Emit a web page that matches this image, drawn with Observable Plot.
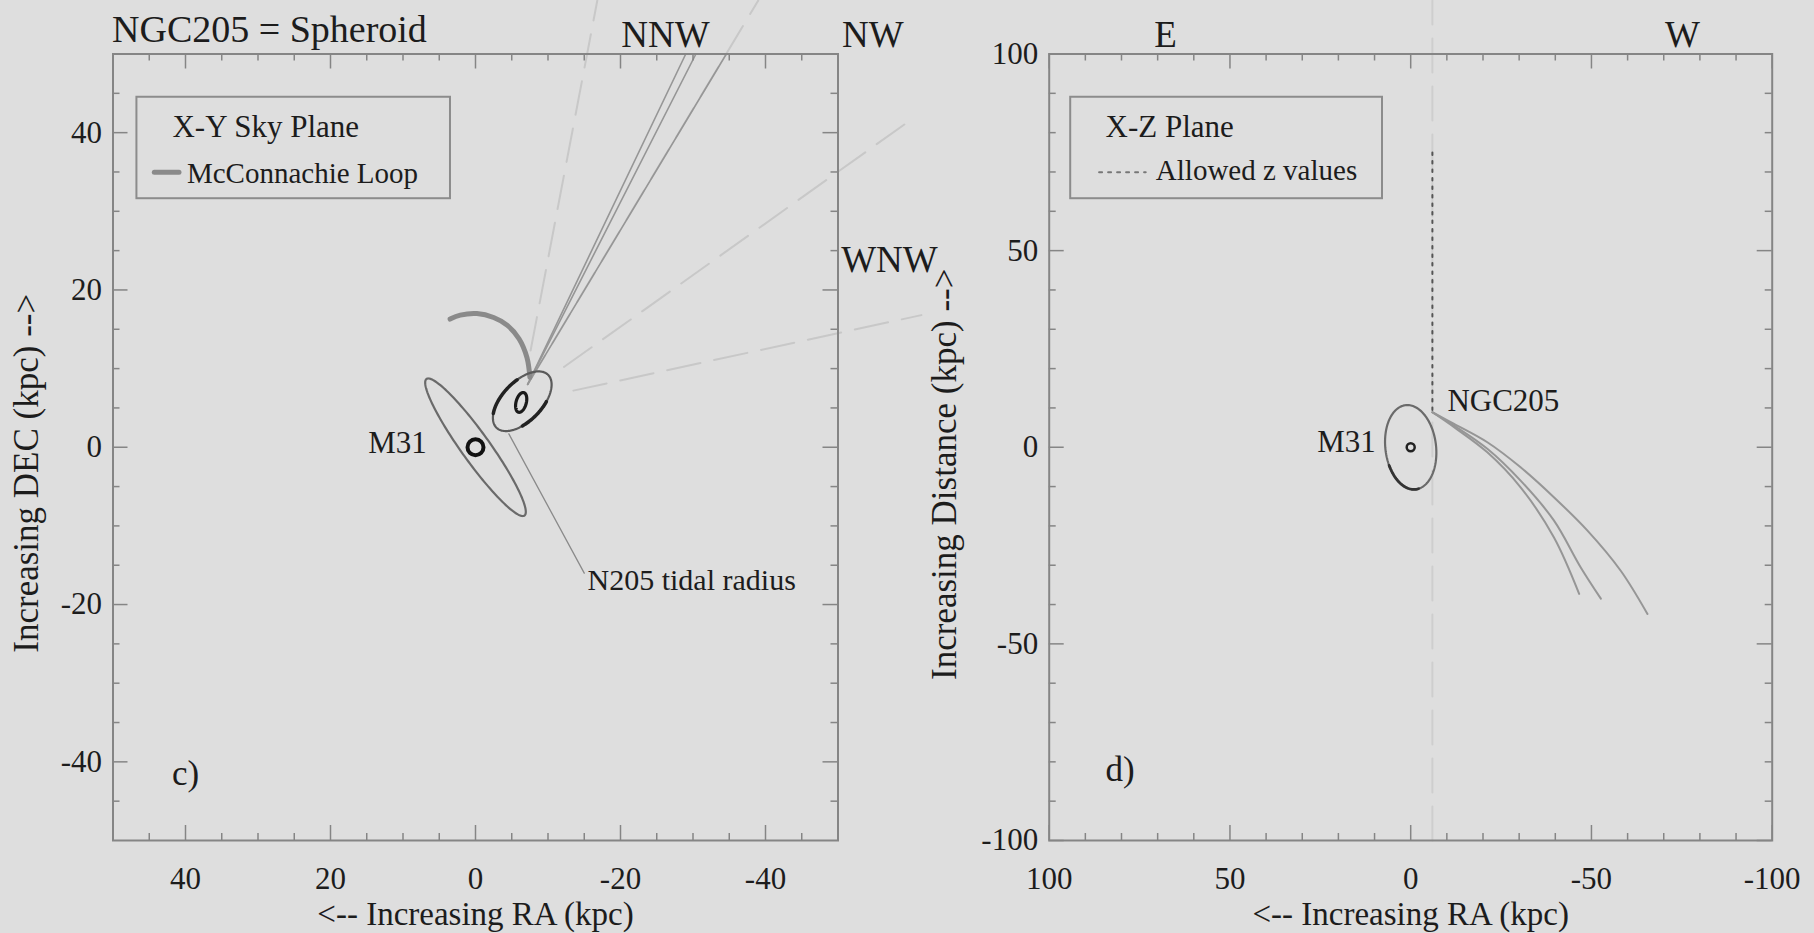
<!DOCTYPE html>
<html>
<head>
<meta charset="utf-8">
<script src="https://cdn.jsdelivr.net/npm/d3@7"></script>
<script src="https://cdn.jsdelivr.net/npm/@observablehq/plot@0.6"></script>
<style>
  html, body { margin: 0; padding: 0; background: #dedede; }
  #fig { position: relative; width: 1814px; height: 933px; overflow: hidden; background: #dedede; }
  #fig svg { position: absolute; top: 0; }
</style>
</head>
<body>
<div id="fig"></div>
<script>
// ---------- tick values ----------
const xyMajorTicks = [40, 20, 0, -20, -40];
const xyMinorTicks = [45, 35, 30, 25, 15, 10, 5, -5, -10, -15, -25, -30, -35, -45];
const xzMajorTicks = [100, 50, 0, -50, -100];
const xzMinorTicks = [90, 80, 70, 60, 40, 30, 20, 10, -10, -20, -30, -40, -60, -70, -80, -90];

// ---------- panel c: X-Y sky plane (kpc) ----------
// McConnachie loop
const mcconnachieLoop = [
  {x: 3.5, y: 16.3}, {x: 2.1, y: 16.8}, {x: -0.2, y: 17.0}, {x: -2.5, y: 16.5},
  {x: -4.4, y: 15.5}, {x: -6.0, y: 13.8}, {x: -7.1, y: 11.4}, {x: -7.5, y: 8.9}
];
// projected NGC205 orbits on the sky
const skyOrbits = [
  {orbit: "a", x: -7.2, y: 8.0}, {orbit: "a", x: -29.0, y: 50},
  {orbit: "b", x: -7.2, y: 8.0}, {orbit: "b", x: -30.4, y: 50},
  {orbit: "c", x: -7.2, y: 8.0}, {orbit: "c", x: -34.6, y: 50}
];
// compass direction rays from NGC205
const directionRays = [
  {ray: "N", x: -7.6, y: 12.3}, {ray: "N", x: -16.8, y: 56.8},
  {ray: "NNW", x: -7.2, y: 8.0}, {ray: "NNW", x: -39.0, y: 56.8},
  {ray: "NW", x: -12.2, y: 10.2}, {ray: "NW", x: -59.7, y: 41.4},
  {ray: "WNW", x: -13.5, y: 7.2}, {ray: "WNW", x: -61.5, y: 16.8}
];
// tidal-radius leader line
const tidalLeader = [{x: -4.6, y: 1.7}, {x: -15.0, y: -16.0}];
// ellipses: [cx, cy, semi-major, semi-minor, major-axis ux, uy]
const m31DiskXY = [0, 0, 11.0, 1.9, 0.616, 0.788];
const n205TidalXY = [-6.45, 5.85, 4.9, 2.6, -0.747, 0.665];
const n205BodyXY = [-6.3, 5.7, 1.3, 0.7, -0.3, 0.954];
const directionNames = ["NNW", "NW", "WNW"];

// ---------- panel d: X-Z plane (kpc) ----------
const depthOrbits = [
  {orbit: "a", x: -6.0, y: 8.9}, {orbit: "a", x: -12.0, y: 5.1}, {orbit: "a", x: -21.2, y: -1.3},
  {orbit: "a", x: -30.4, y: -10.2}, {orbit: "a", x: -39.6, y: -22.9}, {orbit: "a", x: -46.6, y: -37.3},
  {orbit: "b", x: -6.0, y: 8.9}, {orbit: "b", x: -12.0, y: 5.5}, {orbit: "b", x: -21.2, y: -0.4},
  {orbit: "b", x: -30.4, y: -8.5}, {orbit: "b", x: -39.6, y: -18.6}, {orbit: "b", x: -47.0, y: -30.5},
  {orbit: "b", x: -52.6, y: -38.5},
  {orbit: "c", x: -6.0, y: 8.9}, {orbit: "c", x: -12.0, y: 5.95}, {orbit: "c", x: -21.2, y: 1.27},
  {orbit: "c", x: -30.4, y: -5.1}, {orbit: "c", x: -39.6, y: -12.7}, {orbit: "c", x: -48.9, y: -21.2},
  {orbit: "c", x: -58.1, y: -31.4}, {orbit: "c", x: -65.5, y: -42.4}
];
const n205RA = -6.0;
const allowedZ = [{x: n205RA, y: 9.5}, {x: n205RA, y: 75.5}];
const raGuide = [{x: n205RA, y: -100}, {x: n205RA, y: 113.6}];
const m31DiskXZ = [0, 0, 10.8, 7.0, 0.146, 0.989];

// ---------- styling ----------
const FONT = "'Liberation Serif', 'Times New Roman', serif";
const INK = "#1c1c1c";
const AXIS = "#858585";

function ellipse([cx, cy, a, b, ux, uy], t0 = 0, t1 = 360, n = 160) {
  const vx = -uy, vy = ux, pts = [];
  for (let i = 0; i <= n; i++) {
    const t = (t0 + (t1 - t0) * i / n) * Math.PI / 180;
    pts.push({
      x: cx + a * Math.cos(t) * ux + b * Math.sin(t) * vx,
      y: cy + a * Math.cos(t) * uy + b * Math.sin(t) * vy
    });
  }
  return pts;
}

// inward ticks on all four sides of the frame
function frameTicks(major, minor, W, H) {
  const s = {stroke: AXIS, strokeWidth: 1.5};
  const out = [];
  for (const [vals, len] of [[major, 15], [minor, 7]]) {
    out.push(
      Plot.ruleX(vals, {x: d => d, insetTop: H - len, ...s}),
      Plot.ruleX(vals, {x: d => d, insetBottom: H - len, ...s}),
      Plot.ruleY(vals, {y: d => d, insetRight: W - len, ...s}),
      Plot.ruleY(vals, {y: d => d, insetLeft: W - len, ...s})
    );
  }
  return out;
}

function tickLabels(major) {
  return [
    Plot.axisX(major, {anchor: "bottom", tickSize: 0, tickPadding: 26, label: null,
      tickFormat: d => String(d), fontSize: 31, fontFamily: FONT, fill: INK}),
    Plot.axisY(major, {anchor: "left", tickSize: 0, tickPadding: 11, label: null,
      tickFormat: d => String(d), fontSize: 31, fontFamily: FONT, fill: INK})
  ];
}

const TOP = 53.5, BOTTOM = 93;
const plotStyle = `background: transparent; overflow: visible; font-family: ${FONT};`;
const txt = {text: d => d, fontFamily: FONT, fill: INK, lineAnchor: "middle"};

// ---------- panel c ----------
const leftW = 960, leftML = 112.5, leftMR = 122.5;
const frameWc = leftW - leftML - leftMR, frameH = 933 - TOP - BOTTOM;

const panelC = Plot.plot({
  width: leftW, height: 933,
  marginTop: TOP, marginBottom: BOTTOM, marginLeft: leftML, marginRight: leftMR,
  style: plotStyle,
  x: {domain: [50, -50]},
  y: {domain: [-50, 50]},
  marks: [
    // dashed direction rays
    Plot.line(directionRays, {x: "x", y: "y", z: "ray", stroke: "#c8c8c8", strokeWidth: 2, strokeDasharray: "34,14"}),
    // orbits
    Plot.line(skyOrbits, {x: "x", y: "y", z: "orbit", stroke: "#969696", strokeWidth: 1.6}),
    // McConnachie loop
    Plot.line(mcconnachieLoop, {x: "x", y: "y", curve: "catmull-rom", stroke: "#8a8a8a", strokeWidth: 5, strokeLinecap: "round"}),
    // M31 disk
    Plot.line(ellipse(m31DiskXY), {x: "x", y: "y", stroke: "#6a6a6a", strokeWidth: 2.2}),
    // NGC205 tidal radius and body
    Plot.line(ellipse(n205TidalXY), {x: "x", y: "y", stroke: "#5a5a5a", strokeWidth: 2.2}),
    Plot.line(ellipse(n205TidalXY, 215, 285, 40), {x: "x", y: "y", stroke: "#222", strokeWidth: 3.5}),
    Plot.line(ellipse(n205TidalXY, 60, 115, 40), {x: "x", y: "y", stroke: "#222", strokeWidth: 3.5}),
    Plot.line(ellipse(n205BodyXY), {x: "x", y: "y", stroke: "#1a1a1a", strokeWidth: 3.2}),
    Plot.dot([{x: 0, y: 0}], {x: "x", y: "y", r: 8, stroke: "#111", strokeWidth: 4, fill: "none"}),
    // leader to label
    Plot.line(tidalLeader, {x: "x", y: "y", stroke: "#8a8a8a", strokeWidth: 1.3}),
    // legend box
    Plot.rect([{}], {x1: 46.7, x2: 3.45, y1: 31.6, y2: 44.5, fill: "none", stroke: "#8c8c8c", strokeWidth: 2}),
    Plot.text(["X-Y Sky Plane"], {...txt, x: () => 41.8, y: () => 40.7, textAnchor: "start", fontSize: 31}),
    Plot.line([{x: 44.3, y: 34.96}, {x: 40.9, y: 34.96}], {x: "x", y: "y", stroke: "#8a8a8a", strokeWidth: 5}),
    Plot.text(["McConnachie Loop"], {...txt, x: () => 39.8, y: () => 34.8, textAnchor: "start", fontSize: 29}),
    // annotations
    Plot.text(["M31"], {...txt, x: () => 10.75, y: () => 0.47, fontSize: 31}),
    Plot.text(["N205 tidal radius"], {...txt, x: () => -15.45, y: () => -16.95, textAnchor: "start", fontSize: 30}),
    Plot.text(["c)"], {...txt, x: () => 40.0, y: () => -41.5, fontSize: 35}),
    Plot.text([directionNames[0]], {...txt, x: () => -26.2, y: () => 52.35, fontSize: 37}),
    Plot.text([directionNames[1]], {...txt, x: () => -54.8, y: () => 52.35, fontSize: 37}),
    Plot.text([directionNames[2]], {...txt, x: () => -57.1, y: () => 23.75, fontSize: 37}),
    // title and axis labels
    Plot.text(["NGC205 = Spheroid"], {...txt, frameAnchor: "top-left", textAnchor: "start", dx: -1, dy: -24.5, fontSize: 38}),
    Plot.text(["<-- Increasing RA (kpc)"], {...txt, frameAnchor: "bottom", textAnchor: "middle", dy: 73.5, fontSize: 33}),
    Plot.text(["Increasing DEC (kpc) -->"], {...txt, frameAnchor: "left", textAnchor: "middle", rotate: -90, dx: -86.5, dy: 26, fontSize: 35}),
    // ticks, tick labels, frame
    ...frameTicks(xyMajorTicks, xyMinorTicks, frameWc, frameH),
    ...tickLabels(xyMajorTicks),
    Plot.frame({stroke: AXIS, strokeWidth: 2})
  ]
});
panelC.style.left = "0px";

// ---------- panel d ----------
const rightLeft = 900, rightW = 914, rightML = 148.7, rightMR = 42.3;
const frameWd = rightW - rightML - rightMR;

const panelD = Plot.plot({
  width: rightW, height: 933,
  marginTop: TOP, marginBottom: BOTTOM, marginLeft: rightML, marginRight: rightMR,
  style: plotStyle,
  x: {domain: [100, -100]},
  y: {domain: [-100, 100]},
  marks: [
    // NGC205 right ascension guide
    Plot.line(raGuide, {x: "x", y: "y", stroke: "#cecece", strokeWidth: 2, strokeDasharray: "34,14"}),
    Plot.line(allowedZ, {x: "x", y: "y", stroke: "#555", strokeWidth: 2, strokeDasharray: "2.5,6"}),
    // orbits in depth
    Plot.line(depthOrbits, {x: "x", y: "y", z: "orbit", curve: "catmull-rom", stroke: "#969696", strokeWidth: 2}),
    // M31 disk
    Plot.line(ellipse(m31DiskXZ), {x: "x", y: "y", stroke: "#6a6a6a", strokeWidth: 2.2}),
    Plot.line(ellipse(m31DiskXZ, 175, 250, 40), {x: "x", y: "y", stroke: "#333", strokeWidth: 2.8}),
    Plot.dot([{x: 0, y: 0}], {x: "x", y: "y", r: 4, stroke: "#222", strokeWidth: 2.5, fill: "none"}),
    // legend box
    Plot.rect([{}], {x1: 94.05, x2: 7.8, y1: 63.2, y2: 89.0, fill: "none", stroke: "#8c8c8c", strokeWidth: 2}),
    Plot.text(["X-Z Plane"], {...txt, x: () => 84.4, y: () => 81.4, textAnchor: "start", fontSize: 31}),
    Plot.line([{x: 86.2, y: 69.9}, {x: 73.3, y: 69.9}], {x: "x", y: "y", stroke: "#777", strokeWidth: 2, strokeDasharray: "3,6"}),
    Plot.text(["Allowed z values"], {...txt, x: () => 70.5, y: () => 70.2, textAnchor: "start", fontSize: 29}),
    // annotations
    Plot.text(["NGC205"], {...txt, x: () => -10.15, y: () => 11.85, textAnchor: "start", fontSize: 31}),
    Plot.text(["M31"], {...txt, x: () => 17.75, y: () => 1.25, fontSize: 31}),
    Plot.text(["d)"], {...txt, x: () => 80.4, y: () => -81.9, fontSize: 35}),
    Plot.text(["E"], {...txt, x: () => 67.8, y: () => 104.7, fontSize: 37}),
    Plot.text(["W"], {...txt, x: () => -75.2, y: () => 104.7, fontSize: 37}),
    // axis labels
    Plot.text(["<-- Increasing RA (kpc)"], {...txt, frameAnchor: "bottom", textAnchor: "middle", dy: 73.5, fontSize: 33}),
    Plot.text(["Increasing Distance (kpc) -->"], {...txt, frameAnchor: "left", textAnchor: "middle", rotate: -90, dx: -104.5, dy: 27, fontSize: 35}),
    // ticks, tick labels, frame
    ...frameTicks(xzMajorTicks, xzMinorTicks, frameWd, frameH),
    ...tickLabels(xzMajorTicks),
    Plot.frame({stroke: AXIS, strokeWidth: 2})
  ]
});
panelD.style.left = rightLeft + "px";

document.getElementById("fig").append(panelC, panelD);
</script>
</body>
</html>
